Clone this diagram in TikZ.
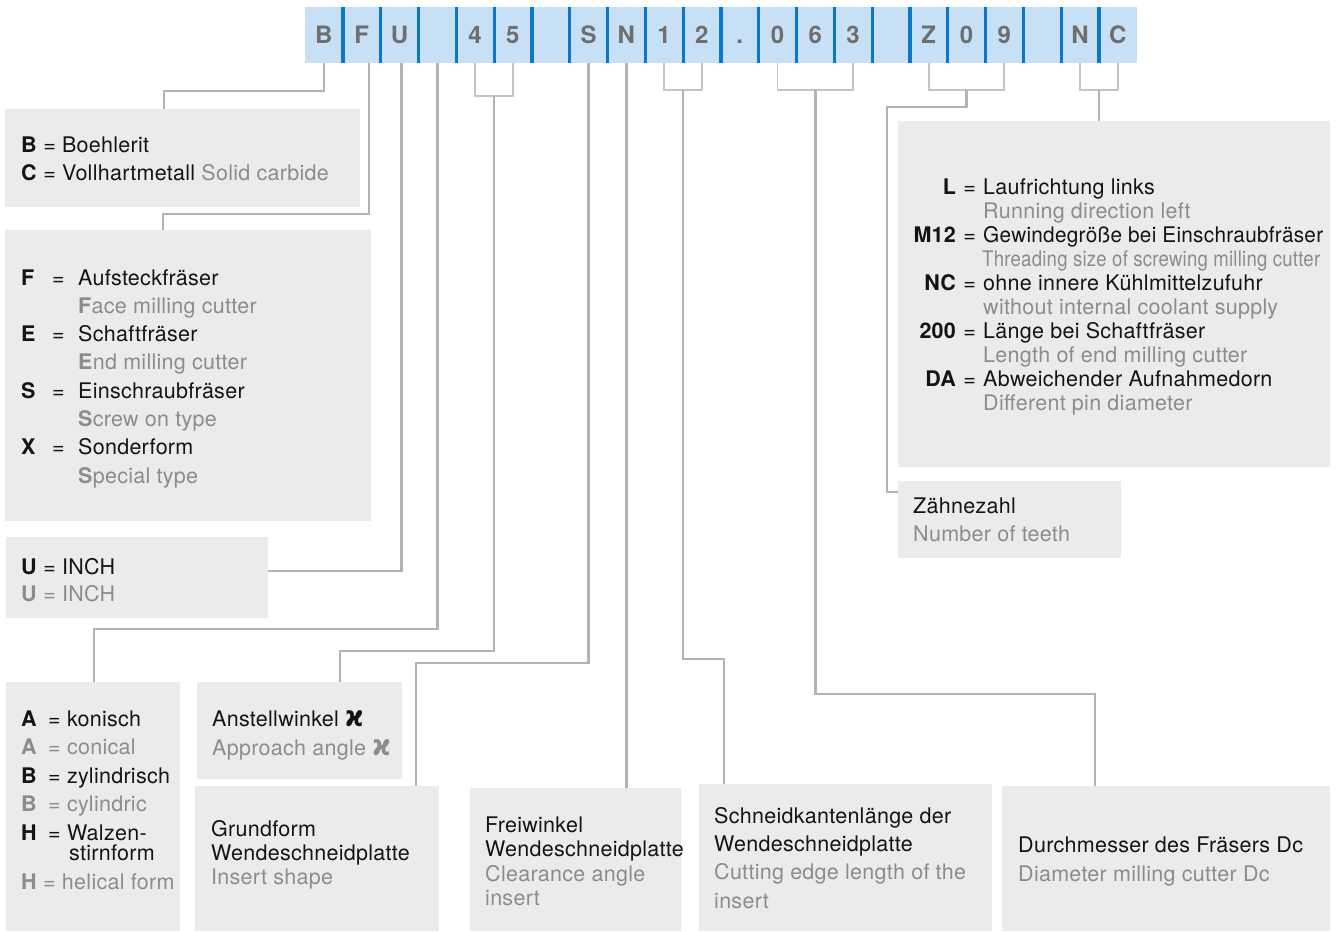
\documentclass[tikz,border=0pt]{standalone}
\usepackage{fontspec}
\setmainfont[LetterSpace=1.3]{TeX Gyre Heros}
\newfontfamily\kapfont{DejaVu Sans}
\newfontfamily\barfont{TeX Gyre Heros}
\usepackage{tikz}
\usetikzlibrary{calc, positioning}
\definecolor{barblue}{HTML}{C8E0F5}
\definecolor{sepblue}{HTML}{0A78C8}
\definecolor{codegray}{HTML}{6E6E6E}
\definecolor{boxgray}{HTML}{EBEBEB}
\definecolor{linegray}{HTML}{B3B3B3}
\definecolor{brkgray}{HTML}{C4C4C4}
\definecolor{txtgray}{HTML}{8C8C8C}
\definecolor{txtblack}{HTML}{141414}
\tikzstyle{cell} = [rectangle, minimum width=37.8pt, minimum height=56pt, inner sep=0pt, text height=17.5pt, text depth=0pt, fill=barblue, text=codegray, font=\barfont\fontsize{24}{24}\selectfont\bfseries]
\tikzstyle{divider} = [sepblue, line width=3.2pt]
\tikzstyle{box} = [rectangle, anchor=north west, inner sep=0pt, fill=boxgray]
\tikzstyle{txt} = [anchor=base west, inner sep=0pt, text=txtblack]
\tikzstyle{conn} = [linegray, line width=2.4pt]
\tikzstyle{brk} = [brkgray, line width=1.8pt]
\newcommand{\gtxt}[1]{\textcolor{txtgray}{#1}}
\newcommand{\rows}[2]{\fontsize{21.5}{#1}\selectfont\begin{tabular}[t]{@{}l@{}}#2\end{tabular}}
\newcommand{\kap}{\scalebox{1.15}[1.35]{\kapfont\bfseries ϰ}}
\newcommand{\fcode}[2]{\makebox[31pt][l]{\textbf{#1}}\makebox[26pt][l]{=}#2}
\newcommand{\acode}[3][27pt]{\makebox[#1][l]{\textbf{#2}}= #3}
\newcommand{\lcode}[2]{\makebox[43pt][r]{\textbf{#1}}\makebox[27pt]{=}#2}

\begin{document}
\begin{tikzpicture}[x=1pt, y=-1pt]
\useasboundingbox (0,0) rectangle (1337,931);

% Code bar
\foreach \ch [count=\i from 0] in {B,F,U,{},4,5,{},S,N,1,2,.,0,6,3,{},Z,0,9,{},N,C}
  \node (c\i) [cell] at ({305+37.8*(\i+0.5)},35) {\ch};
\foreach \i in {0,...,20}
  \draw [divider] (c\i.north east) -- (c\i.south east);

% Boxes
\node (bc) [box, minimum width=355pt, minimum height=98pt] at (5,109) {};
\node (fb) [box, minimum width=366pt, minimum height=291pt] at (5,230) {};
\node (ub) [box, minimum width=262pt, minimum height=81pt] at (6,537) {};
\node (ab) [box, minimum width=174pt, minimum height=249pt] at (6,682) {};
\node (ang) [box, minimum width=205pt, minimum height=97pt] at (197,682) {};
\node (gb) [box, minimum width=244pt, minimum height=145pt] at (195,786) {};
\node (fw) [box, minimum width=211pt, minimum height=143pt] at (470,788) {};
\node (sk) [box, minimum width=293pt, minimum height=147pt] at (699,784) {};
\node (dm) [box, minimum width=328pt, minimum height=145pt] at (1002,786) {};
\node (lb) [box, minimum width=432pt, minimum height=346pt] at (898,121) {};
\node (zb) [box, minimum width=223pt, minimum height=77pt] at (898,481) {};

% Box texts
\node (bctxt) [txt] at (21,152) {\rows{28}{\textbf{B} = Boehlerit\\ \textbf{C} = Vollhartmetall \gtxt{Solid carbide}}};
\node (fbtxt) [txt] at (21,285) {\rows{28.3}{\fcode{F}{Aufsteckfräser}\\ \hspace*{57pt}\gtxt{\textbf{F}ace milling cutter}\\
  \fcode{E}{Schaftfräser}\\ \hspace*{57pt}\gtxt{\textbf{E}nd milling cutter}\\
  \fcode{S}{Einschraubfräser}\\ \hspace*{57pt}\gtxt{\textbf{S}crew on type}\\
  \fcode{X}{Sonderform}\\ \hspace*{57pt}\gtxt{\textbf{S}pecial type}}};
\node (ubtxt) [txt] at (21,574) {\rows{27.5}{\textbf{U} = INCH\\ \gtxt{\textbf{U} = INCH}}};
\node (abtxt) [txt] at (21,726) {\rows{28.5}{\acode{A}{konisch}\\ \gtxt{\acode{A}{conical}}\\
  \acode{B}{zylindrisch}\\ \gtxt{\acode{B}{cylindric}}\\
  \acode{H}{Walzen-}\\[-7.8pt] \hspace*{48pt}stirnform\\ \gtxt{\acode[22pt]{H}{helical form}}}};
\node (angtxt) [txt] at (212,726) {\rows{29}{Anstellwinkel \kap\\ \gtxt{Approach angle \kap}}};
\node (gbtxt) [txt] at (211,836) {\rows{24.2}{Grundform\\ Wendeschneidplatte\\ \gtxt{Insert shape}}};
\node (fwtxt) [txt] at (485,832.7) {\rows{24.2}{Freiwinkel\\ Wendeschneidplatte\\ \gtxt{Clearance angle}\\ \gtxt{insert}}};
\node (sktxt) [txt] at (714,823.3) {\rows{28.3}{Schneidkantenlänge der\\ Wendeschneidplatte\\ \gtxt{Cutting edge length of the}\\ \gtxt{insert}}};
\node (dmtxt) [txt] at (1018,852.7) {\rows{29}{Durchmesser des Fräsers Dc\\ \gtxt{Diameter milling cutter Dc}}};
\node (lbtxt) [txt] at (913,194) {\rows{24}{\lcode{L}{Laufrichtung links}\\ \hspace*{70pt}\gtxt{Running direction left}\\
  \lcode{M12}{\resizebox{340pt}{\height}{Gewindegröße bei Einschraubfräser}}\\ \hspace*{69pt}\gtxt{\resizebox{338pt}{\height}{Threading size of screwing milling cutter}}\\
  \lcode{NC}{ohne innere Kühlmittelzufuhr}\\ \hspace*{70pt}\gtxt{without internal coolant supply}\\
  \lcode{200}{Länge bei Schaftfräser}\\ \hspace*{70pt}\gtxt{Length of end milling cutter}\\
  \lcode{DA}{Abweichender Aufnahmedorn}\\ \hspace*{70pt}\gtxt{Different pin diameter}}};
\node (zbtxt) [txt] at (913,513.3) {\rows{27.7}{Zähnezahl\\ \gtxt{Number of teeth}}};

% Single connectors
\draw [conn] (c0.south) -- ++(0,28) -| ([xshift=159pt]bc.north west);
\draw [conn] ([xshift=7pt]c1.south) -- ++(0,151) -| ([xshift=158pt]fb.north west);
\draw [conn] ([xshift=2pt]c2.south) |- ([yshift=7pt]ub.east);
\draw [conn] (c3.south) -- ++(0,566) -| ([xshift=88pt]ab.north west);
\draw [conn] (c7.south) -- ++(0,600) -| ([xshift=221pt]gb.north west);
\draw [conn] (c8.south) -- (c8.south |- fw.north);

% Brackets
\draw [brk] (c4.south) -- ++(0,33) -| (c5.south);
\coordinate (k45) at ($(c4.south)!0.5!(c5.south)+(0,33)$);
\draw [conn] (k45) -- ++(0,555) -| ([xshift=143pt]ang.north west);
\draw [brk] (c9.south) -- ++(0,27) -| (c10.south);
\coordinate (k12) at ($(c9.south)!0.5!(c10.south)+(0,27)$);
\draw [conn] (k12) -- ++(0,569) -| ([xshift=25pt]sk.north west);
\draw [brk] (c12.south) -- ++(0,27) -| (c14.south);
\coordinate (k063) at ($(c13.south)+(0,27)$);
\draw [conn] (k063) -- ++(0,604) -| ([xshift=93pt]dm.north west);
\draw [brk] (c16.south) -- ++(0,27) -| (c18.south);
\coordinate (kz) at ($(c17.south)+(0,27)$);
\draw [conn] (kz) -- ++(0,17) -| ([xshift=-11pt,yshift=-11pt]zb.north west) -- ([yshift=-11pt]zb.north west);
\draw [brk] (c20.south) -- ++(0,27) -| (c21.south);
\coordinate (knc) at ($(c20.south)!0.5!(c21.south)+(0,27)$);
\draw [conn] (knc) -- (knc |- lb.north);

\end{tikzpicture}
\end{document}
